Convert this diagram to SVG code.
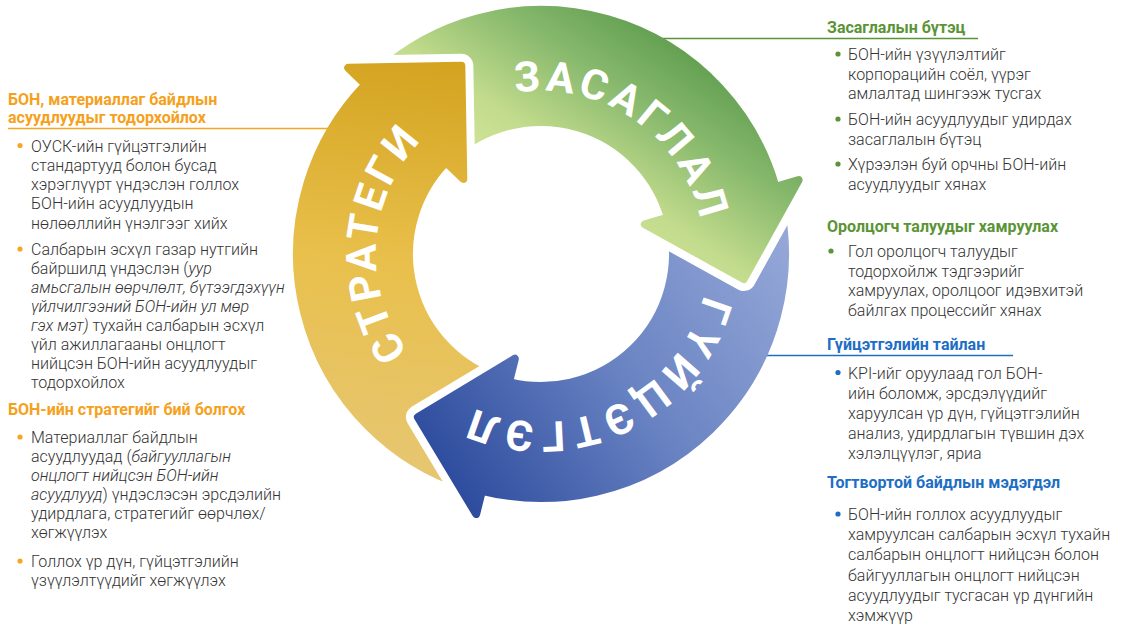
<svg xmlns="http://www.w3.org/2000/svg" width="1139" height="626" viewBox="0 0 1139 626">
<style>
  .t{font-family:Roboto,"Liberation Sans",sans-serif;font-size:16px;font-weight:300;fill:#333}
  .h{font-family:Roboto,"Liberation Sans",sans-serif;font-size:16px;font-weight:700}
  .ho{fill:#f5a11c}.hg{fill:#5a9436}.hb{fill:#1d6ec4}
  .i{font-style:italic}
  .lbl{font-family:Roboto,"Liberation Sans",sans-serif;font-size:42px;font-weight:700;fill:#fff}
  .do{fill:#f5a623}.dg{fill:#5a9436}.db{fill:#1d6ec4}
</style>
<defs>
  <linearGradient id="gY" gradientUnits="userSpaceOnUse" x1="420" y1="480" x2="470" y2="60">
    <stop offset="0" stop-color="#e6c672"/><stop offset="0.5" stop-color="#e9c04c"/><stop offset="1" stop-color="#d3a31f"/>
  </linearGradient>
  <linearGradient id="gG" gradientUnits="userSpaceOnUse" x1="520" y1="200" x2="640" y2="20">
    <stop offset="0" stop-color="#d4e598"/><stop offset="0.3" stop-color="#c2db8c"/><stop offset="0.7" stop-color="#86b86c"/><stop offset="1" stop-color="#64a052"/>
  </linearGradient>
  <linearGradient id="gB" gradientUnits="userSpaceOnUse" x1="440" y1="470" x2="780" y2="230">
    <stop offset="0" stop-color="#2e4c9e"/><stop offset="0.5" stop-color="#6a84c3"/><stop offset="1" stop-color="#94a7d7"/>
  </linearGradient>
  <path id="headY" d="M348.22,67.83 L461.33,65.85 L463.31,178.98 Z"/>
  <path id="headG" d="M798.62,180.13 L743.77,279.08 L644.82,224.23 Z"/>
  <path id="headB" d="M476.16,514.04 L417.90,417.07 L514.87,358.79 Z"/>
  <mask id="mY" maskUnits="userSpaceOnUse" x="0" y="0" width="1139" height="626">
    <rect width="1139" height="626" fill="#fff"/>
    <use href="#headB" fill="#000" stroke="#000" stroke-width="24" stroke-linejoin="round"/>
  </mask>
  <mask id="mG" maskUnits="userSpaceOnUse" x="0" y="0" width="1139" height="626">
    <rect width="1139" height="626" fill="#fff"/>
    <use href="#headY" fill="#000" stroke="#000" stroke-width="24" stroke-linejoin="round"/>
  </mask>
  <mask id="mB" maskUnits="userSpaceOnUse" x="0" y="0" width="1139" height="626">
    <rect width="1139" height="626" fill="#fff"/>
    <use href="#headG" fill="#000" stroke="#000" stroke-width="24" stroke-linejoin="round"/>
  </mask>
  <path id="pZ" d="M447.51,120.48 A163,163 0 0 1 698.45,296.19"/>
  <path id="pS" d="M473.89,404.73 A165,165 0 0 1 495.52,95.39"/>
  <path id="pG" d="M706.32,224.11 A168,168 0 0 1 412.78,362.55"/>
</defs>

<g id="connectors" stroke-width="1.5" fill="none">
  <line x1="8" y1="128.5" x2="360" y2="128.5" stroke="#f5a623"/>
  <line x1="660" y1="38.5" x2="978" y2="38.5" stroke="#5a9436"/>
  <line x1="700" y1="355.5" x2="1013" y2="355.5" stroke="#1d6ec4"/>
</g>

<g id="arrow-strategy">
  <path mask="url(#mY)" fill="url(#gY)" stroke="url(#gY)" stroke-width="8" stroke-linejoin="round" d="M465.60,486.06 A244,244 0 0 1 365.48,84.50 L348.22,67.83 L461.33,65.85 L463.31,178.98 L446.05,162.30 A132,132 0 0 0 500.21,379.54 Z"/>
  <text class="lbl" letter-spacing="3.5"><textPath href="#pS" startOffset="50%" text-anchor="middle">СТРАТЕГИ</textPath></text>
</g>
<g id="arrow-governance">
  <path mask="url(#mG)" fill="url(#gG)" stroke="url(#gG)" stroke-width="8" stroke-linejoin="round" d="M377.73,72.67 A244,244 0 0 1 775.55,186.74 L798.62,180.13 L743.77,279.08 L644.82,224.23 L667.89,217.62 A132,132 0 0 0 452.67,155.90 Z"/>
  <text class="lbl" letter-spacing="4"><textPath href="#pZ" startOffset="50%" text-anchor="middle">ЗАСАГЛАЛ</textPath></text>
</g>
<g id="arrow-performance">
  <path mask="url(#mB)" fill="url(#gB)" stroke="url(#gB)" stroke-width="8" stroke-linejoin="round" d="M779.67,203.27 A244,244 0 0 1 481.97,490.75 L476.16,514.04 L417.90,417.07 L514.87,358.79 L509.07,382.08 A132,132 0 0 0 670.12,226.56 Z"/>
  <text class="lbl" letter-spacing="6"><textPath href="#pG" startOffset="50%" text-anchor="middle">ГҮЙЦЭТГЭЛ</textPath></text>
</g>

<g id="left-materiality">
  <text class="h ho" x="8" y="105">БОН, материаллаг байдлын</text>
  <text class="h ho" x="8" y="123">асуудлуудыг тодорхойлох</text>
  <circle class="do" cx="20" cy="145.5" r="2.6"/>
  <text class="t" x="31" y="151.5">ОУСК-ийн гүйцэтгэлийн</text>
  <text class="t" x="31" y="170.8">стандартууд болон бусад</text>
  <text class="t" x="31" y="190.1">хэрэглүүрт үндэслэн голлох</text>
  <text class="t" x="31" y="209.4">БОН-ийн асуудлуудын</text>
  <text class="t" x="31" y="228.7">нөлөөллийн үнэлгээг хийх</text>
  <circle class="do" cx="20" cy="249" r="2.6"/>
  <text class="t" x="31" y="255">Салбарын эсхүл газар нутгийн</text>
  <text class="t" x="31" y="274">байршилд үндэслэн (<tspan class="i">уур</tspan></text>
  <text class="t i" x="31" y="293">амьсгалын өөрчлөлт, бүтээгдэхүүн</text>
  <text class="t i" x="31" y="312">үйлчилгээний БОН-ийн ул мөр</text>
  <text class="t" x="31" y="331"><tspan class="i">гэх мэт)</tspan> тухайн салбарын эсхүл</text>
  <text class="t" x="31" y="350">үйл ажиллагааны онцлогт</text>
  <text class="t" x="31" y="369">нийцсэн БОН-ийн асуудлуудыг</text>
  <text class="t" x="31" y="388">тодорхойлох</text>
</g>
<g id="left-strategy">
  <text class="h ho" x="8" y="415">БОН-ийн стратегийг бий болгох</text>
  <circle class="do" cx="20" cy="437" r="2.6"/>
  <text class="t" x="31" y="443">Материаллаг байдлын</text>
  <text class="t" x="31" y="462">асуудлуудад (<tspan class="i">байгууллагын</tspan></text>
  <text class="t i" x="31" y="481">онцлогт нийцсэн БОН-ийн</text>
  <text class="t" x="31" y="500"><tspan class="i">асуудлууд</tspan>) үндэслэсэн эрсдэлийн</text>
  <text class="t" x="31" y="519">удирдлага, стратегийг өөрчлөх/</text>
  <text class="t" x="31" y="538">хөгжүүлэх</text>
  <circle class="do" cx="20" cy="561" r="2.6"/>
  <text class="t" x="31" y="567">Голлох үр дүн, гүйцэтгэлийн</text>
  <text class="t" x="31" y="586">үзүүлэлтүүдийг хөгжүүлэх</text>
</g>

<g id="right-governance">
  <text class="h hg" x="827" y="33">Засаглалын бүтэц</text>
  <circle class="dg" cx="838" cy="54" r="2.6"/>
  <text class="t" x="848" y="60">БОН-ийн үзүүлэлтийг</text>
  <text class="t" x="848" y="79.7">корпорацийн соёл, үүрэг</text>
  <text class="t" x="848" y="99.4">амлалтад шингээж тусгах</text>
  <circle class="dg" cx="838" cy="119" r="2.6"/>
  <text class="t" x="848" y="125">БОН-ийн асуудлуудыг удирдах</text>
  <text class="t" x="848" y="144.7">засаглалын бүтэц</text>
  <circle class="dg" cx="838" cy="164" r="2.6"/>
  <text class="t" x="848" y="170">Хүрээлэн буй орчны БОН-ийн</text>
  <text class="t" x="848" y="189.7">асуудлуудыг хянах</text>
</g>
<g id="right-stakeholders">
  <text class="h hg" x="827" y="231.5">Оролцогч талуудыг хамруулах</text>
  <circle class="dg" cx="831" cy="251" r="2.6"/>
  <text class="t" x="848" y="257">Гол оролцогч талуудыг</text>
  <text class="t" x="848" y="276.5">тодорхойлж тэдгээрийг</text>
  <text class="t" x="848" y="296">хамруулах, оролцоог идэвхитэй</text>
  <text class="t" x="848" y="315.5">байлгах процессийг хянах</text>
</g>
<g id="right-report">
  <text class="h hb" x="827" y="350">Гүйцэтгэлийн тайлан</text>
  <circle class="db" cx="838" cy="372.5" r="2.6"/>
  <text class="t" x="848" y="378.5">KPI-ийг оруулаад гол БОН-</text>
  <text class="t" x="848" y="398.7">ийн боломж, эрсдэлүүдийг</text>
  <text class="t" x="848" y="418.9">харуулсан үр дүн, гүйцэтгэлийн</text>
  <text class="t" x="848" y="439.1">анализ, удирдлагын түвшин дэх</text>
  <text class="t" x="848" y="459.3">хэлэлцүүлэг, яриа</text>
</g>
<g id="right-sustainability">
  <text class="h hb" x="827" y="488">Тогтвортой байдлын мэдэгдэл</text>
  <circle class="db" cx="838" cy="514" r="2.6"/>
  <text class="t" x="848" y="520">БОН-ийн голлох асуудлуудыг</text>
  <text class="t" x="848" y="540.2">хамруулсан салбарын эсхүл тухайн</text>
  <text class="t" x="848" y="560.4">салбарын онцлогт нийцсэн болон</text>
  <text class="t" x="848" y="580.6">байгууллагын онцлогт нийцсэн</text>
  <text class="t" x="848" y="600.8">асуудлуудыг тусгасан үр дүнгийн</text>
  <text class="t" x="848" y="621">хэмжүүр</text>
</g>
</svg>
